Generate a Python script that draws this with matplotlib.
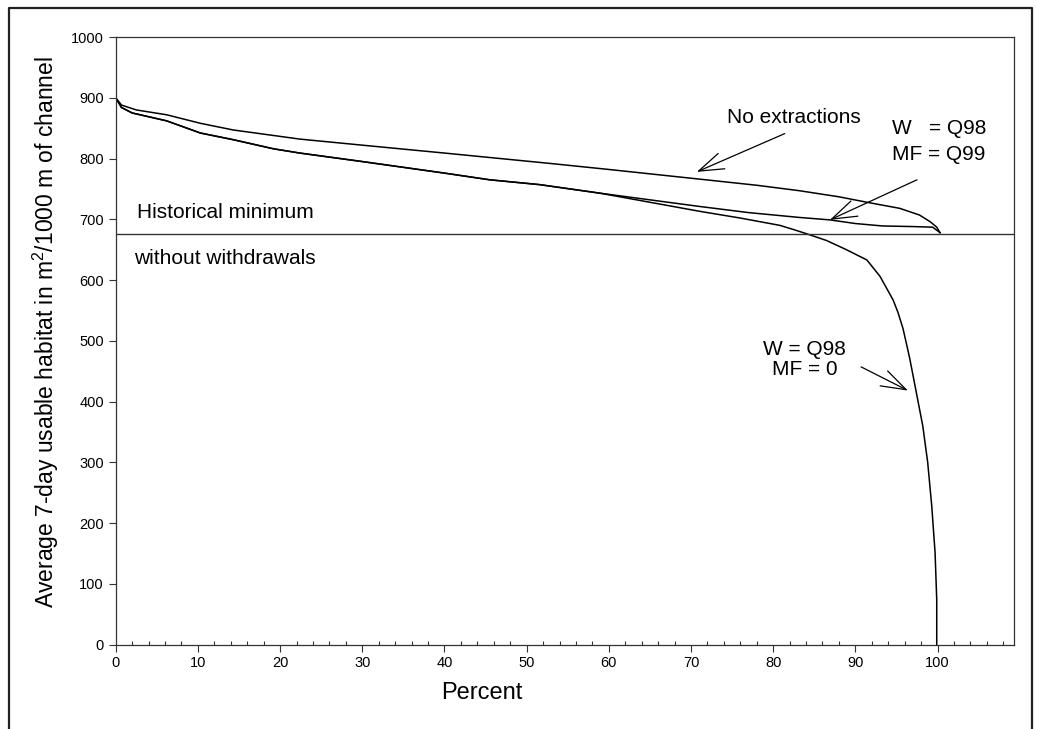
import matplotlib
matplotlib.use("Agg")
import matplotlib.pyplot as plt
from matplotlib.lines import Line2D

plt.rcParams['font.family'] = ['Liberation Sans', 'DejaVu Sans']
plt.rcParams['mathtext.default'] = 'regular'

# curve: no extractions
pct_none = [0, 0.7, 2.5, 6.2, 10.3, 14.3, 22.4, 30, 40, 52.8, 60, 71.1, 78, 83.2,
            88, 91.8, 95.4, 97.8, 99.1, 99.9, 100.3]
hab_none = [900, 888, 880, 872, 858, 847, 832, 822, 809, 792, 782, 766, 756, 747,
            737, 727, 718, 707, 696, 687, 678]

# W = Q98, MF = Q99
pct_q99 = [0, 0.7, 2, 6.2, 10.3, 14.3, 19.2, 22.4, 30, 40, 45.5, 51.6, 58.9, 65,
           71.1, 77, 83.2, 86.9, 90, 93.3, 97, 99.4, 100.3]
hab_q99 = [900, 884, 875, 862, 842, 831, 816, 809, 795, 776, 765, 757, 743, 732,
           721, 711, 703, 699, 693, 689, 688, 687, 678]

# W = Q98, MF = 0
pct_mf0 = [0, 0.7, 2, 6.2, 10.3, 14.3, 19.2, 22.4, 30, 40, 45.5, 51.6, 58.9, 65,
           71.1, 76, 80.8, 82.5, 84.1, 86.5, 88.9, 91.4, 93, 94.6, 95.2, 95.8,
           96.6, 97.4, 98.2, 98.8, 99.3, 99.7, 99.9, 99.9]
hab_mf0 = [900, 884, 875, 862, 842, 831, 816, 809, 795, 776, 765, 757, 743, 728,
           713, 702, 690, 683, 676, 665, 650, 633, 606, 567, 546, 520,
           472, 416, 360, 300, 227, 151, 74, 0]

hist_min = 676

fig = plt.figure(figsize=(10.37, 7.29), dpi=100)
ax = fig.add_axes([0.1116, 0.1159, 0.8662, 0.8333])

ax.plot(pct_none, hab_none, color='black', lw=1.1)
ax.plot(pct_q99, hab_q99, color='black', lw=1.1)
ax.plot(pct_mf0, hab_mf0, color='black', lw=1.1)
ax.axhline(hist_min, color='#333333', lw=1.0)

ax.set_xlim(0, 109.3)
ax.set_ylim(0, 1000)
ax.set_xticks(range(0, 101, 10))
ax.set_xticks([v for v in range(2, 109, 2) if v % 10 != 0], minor=True)
ax.set_yticks(range(0, 1001, 100))
ax.tick_params(axis='both', which='major', labelsize=10.5, length=5,
               direction='out', width=0.8, color='#333333')
ax.tick_params(axis='x', which='minor', length=3, direction='in',
               width=0.8, color='#333333')
ax.tick_params(axis='y', which='minor', left=False)
for sp in ax.spines.values():
    sp.set_color('#333333')
    sp.set_linewidth(0.9)

ax.set_xlabel('Percent', fontsize=17)
ax.xaxis.set_label_coords(0.408, -0.062)
ax.set_ylabel('Average 7-day usable habitat in m$^{2}$/1000 m of channel',
              fontsize=16.5)
ax.yaxis.set_label_coords(-0.0605, 0.515)

ax.text(2.6, hist_min + 35, 'Historical minimum', fontsize=15, va='center')
ax.text(2.2, hist_min - 40, 'without withdrawals', fontsize=15, va='center')

arrow = dict(arrowstyle='->,head_length=0.9,head_width=0.3', lw=0.9,
             color='black', mutation_scale=20, shrinkA=0, shrinkB=0)

ax.text(74.4, 867, 'No extractions', fontsize=15, va='center', ha='left')
ax.annotate('', xy=(70.7, 778), xytext=(81.4, 841), arrowprops=arrow)

ax.text(94.5, 849, 'W   = Q98', fontsize=15, va='center', ha='left')
ax.text(94.5, 806, 'MF = Q99', fontsize=15, va='center', ha='left')
ax.annotate('', xy=(86.9, 699), xytext=(97.5, 765), arrowprops=arrow)

ax.text(83.8, 486, 'W = Q98', fontsize=15, va='center', ha='center')
ax.text(83.8, 452, 'MF = 0', fontsize=15, va='center', ha='center')
ax.annotate('', xy=(96.4, 418), xytext=(90.7, 457), arrowprops=arrow)

# outer frame (open at the bottom edge of the picture)
x0, x1 = 9 / 1037, 1032 / 1037
yt = 1 - 7.5 / 729
fig.add_artist(Line2D([x0, x0, x1, x1], [0, yt, yt, 0], color='#222222',
                      lw=1.6, transform=fig.transFigure))

fig.savefig('out.png', dpi=100)
